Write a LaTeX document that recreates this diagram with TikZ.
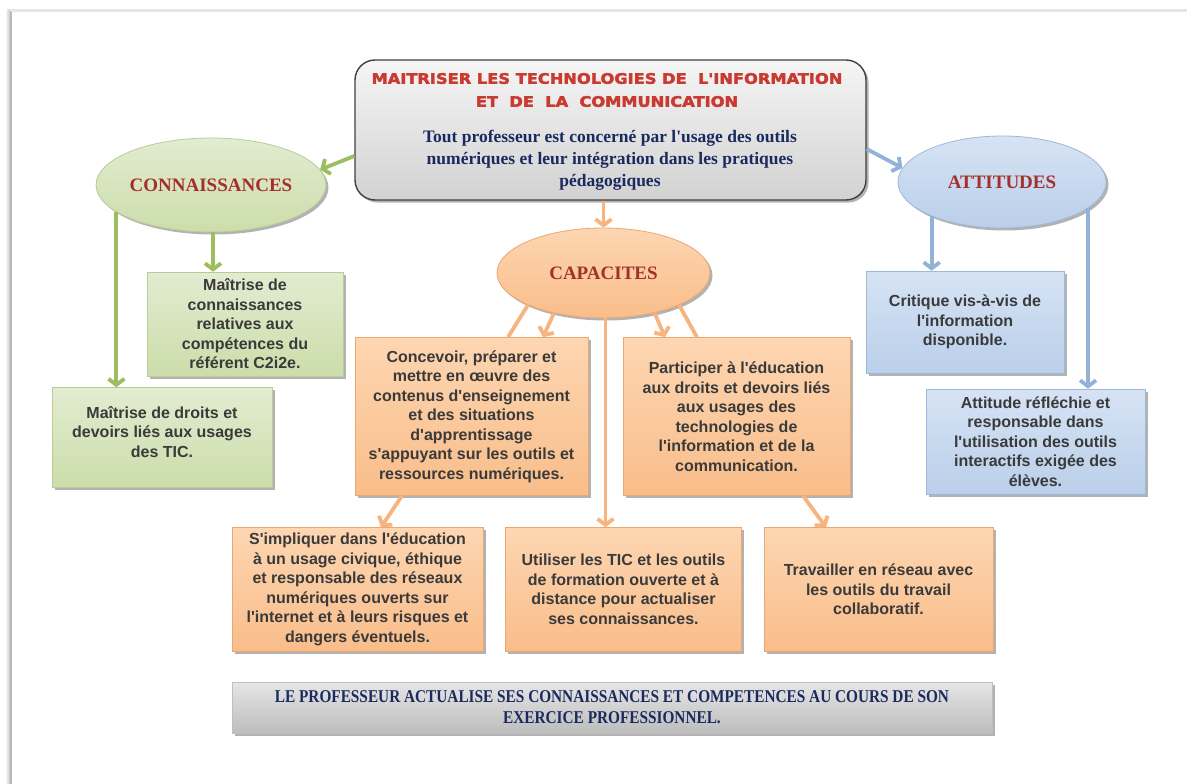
\documentclass[tikz,border=0pt]{standalone}
\usepackage{graphicx}
\usepackage{fontspec}
\setmainfont{Liberation Serif}[Ligatures=TeXOff]
\setsansfont{Liberation Sans}[Ligatures=TeXOff]
\newfontfamily\headfont{DejaVu Sans Bold}[FakeBold=2.5]
\usetikzlibrary{shapes.geometric,arrows.meta,shadows}

\definecolor{bodytext}{HTML}{3A3A3A}
\definecolor{navy}{HTML}{1B2A5E}
\definecolor{headred}{HTML}{C93A30}
\definecolor{ovalred}{HTML}{A3302C}
\definecolor{gtop}{HTML}{E2ECD1}
\definecolor{gbot}{HTML}{CCDDAA}
\definecolor{gedge}{HTML}{B9CC93}
\definecolor{garr}{HTML}{9DBE5E}
\definecolor{btop}{HTML}{D6E3F4}
\definecolor{bbot}{HTML}{BACFEA}
\definecolor{bedge}{HTML}{9FB8D8}
\definecolor{barr}{HTML}{93B2D7}
\definecolor{otop}{HTML}{FDD6B2}
\definecolor{obot}{HTML}{F9BD8A}
\definecolor{oedge}{HTML}{E9A772}
\definecolor{oarr}{HTML}{F7B47E}
\definecolor{graytop}{HTML}{F5F5F5}
\definecolor{graybot}{HTML}{D2D2D2}

\newcommand\widecaps[1]{\scalebox{1.12}[1]{#1}}
\newcommand\narrowcaps[1]{\scalebox{0.85}[1]{#1}}

\begin{document}
\begin{tikzpicture}[x=1pt,y=-1pt,
  softshadow/.style={drop shadow={shadow xshift=2.5pt,shadow yshift=-2.5pt,opacity=0.3,fill=black}},
  boxfont/.style={font=\sffamily\bfseries\fontsize{16}{19.5}\selectfont, text=bodytext, align=center},
  panel/.style={rectangle, line width=0.6pt, inner sep=0pt, softshadow, boxfont},
  gpanel/.style={panel, draw=gedge, top color=gtop, bottom color=gbot},
  bpanel/.style={panel, draw=bedge, top color=btop, bottom color=bbot},
  opanel/.style={panel, draw=oedge, top color=otop, bottom color=obot},
  oval/.style={ellipse, inner sep=0pt, line width=0.8pt, softshadow,
    font=\rmfamily\bfseries\fontsize{19}{22}\selectfont, text=ovalred},
  goval/.style={oval, draw=gedge, top color=gtop, bottom color=gbot},
  boval/.style={oval, draw=bedge, top color=btop, bottom color=bbot},
  ooval/.style={oval, draw=oedge, top color=otop, bottom color=obot},
  topbox/.style={rectangle, rounded corners=20pt, draw=black!75, line width=1.4pt,
    top color=graytop, bottom color=graybot, softshadow},
  band/.style={rectangle, draw=black!25, line width=0.6pt, top color=black!10,
    bottom color=black!26, softshadow, inner sep=0pt,
    font=\rmfamily\bfseries\fontsize{18}{21}\selectfont, text=navy, align=center},
  link/.style={line width=3.8pt, -{Straight Barb[length=6pt,width=16pt]}},
  glink/.style={link, draw=garr},
  blink/.style={link, draw=barr},
  olink/.style={link, draw=oarr},
  oline/.style={line width=3.8pt, draw=oarr},
]
\useasboundingbox (0,0) rectangle (1187,784);
\fill[white] (0,0) rectangle (1187,784);

% page edge with its soft shadow
\fill[left color=white, right color=black!22] (5,10) rectangle (10,784);
\draw[black!28, line width=2pt] (11,784) -- (11,11);
\draw[black!10, line width=2.5pt] (11,10.5) -- (1187,10.5);

% heading box
\node[topbox, minimum width=511pt, minimum height=140pt] (top) at (610.5,130) {};
\node[font=\headfont\fontsize{14.5}{23}\selectfont, text=headred, align=center]
  (headline) at (607,90)
  {\widecaps{MAITRISER LES TECHNOLOGIES DE\ \ L'INFORMATION}\\
   \widecaps{ET\ \ DE\ \ LA\ \ COMMUNICATION}};
\node[font=\rmfamily\bfseries\fontsize{17.5}{22}\selectfont, text=navy, align=center]
  (motto) at (610,160)
  {Tout professeur est concerné par l'usage des outils\\
   numériques et leur intégration dans les pratiques\\
   pédagogiques};

% the three families
\node[goval, minimum width=228pt, minimum height=94pt] (conn) at (211,185) {CONNAISSANCES};
\node[boval, minimum width=208pt, minimum height=92pt] (att) at (1002,182) {ATTITUDES};
\node[ooval, minimum width=213pt, minimum height=90pt] (cap) at (603.5,273) {CAPACITES};

% knowledge
\node[gpanel, minimum width=196pt, minimum height=104pt] (g1) at (245,324)
  {Maîtrise de\\ connaissances\\ relatives aux\\ compétences du\\ référent C2i2e.};
\node[gpanel, minimum width=220pt, minimum height=100pt] (g2) at (162,437.5) {};
\node[boxfont] (g2text) at (162,432)
  {Maîtrise de droits et\\ devoirs liés aux usages\\ des TIC.};

% attitudes
\node[bpanel, minimum width=198pt, minimum height=102pt] (b1) at (965,322)
  {Critique vis-à-vis de\\ l'information\\ disponible.};
\node[bpanel, minimum width=219pt, minimum height=105pt] (b2) at (1035.5,441.5)
  {Attitude réfléchie et\\ responsable dans\\ l'utilisation des outils\\ interactifs exigée des\\ élèves.};

% abilities
\node[opanel, minimum width=233pt, minimum height=158pt] (oA) at (471.5,416.5)
  {Concevoir, préparer et\\ mettre en œuvre des\\ contenus d'enseignement\\ et des situations\\ d'apprentissage\\ s'appuyant sur les outils et\\ ressources numériques.};
\node[opanel, minimum width=227pt, minimum height=158pt] (oB) at (736.5,416.5)
  {Participer à l'éducation\\ aux droits et devoirs liés\\ aux usages des\\ technologies de\\ l'information et de la\\ communication.};
\node[opanel, minimum width=251pt, minimum height=124pt] (o1) at (357.5,589.5)
  {S'impliquer dans l'éducation\\ à un usage civique, éthique\\ et responsable des réseaux\\ numériques ouverts sur\\ l'internet et à leurs risques et\\ dangers éventuels.};
\node[opanel, minimum width=236pt, minimum height=124pt] (o2) at (623.5,589.5)
  {Utiliser les TIC et les outils\\ de formation ouverte et à\\ distance pour actualiser\\ ses connaissances.};
\node[opanel, minimum width=229pt, minimum height=124pt] (o3) at (878.5,589.5)
  {Travailler en réseau avec\\ les outils du travail\\ collaboratif.};

% closing statement
\node[band, minimum width=760pt, minimum height=51pt] (band) at (612,707.5)
  {\narrowcaps{LE PROFESSEUR ACTUALISE SES CONNAISSANCES ET COMPETENCES AU COURS DE SON}\\
   \narrowcaps{EXERCICE PROFESSIONNEL.}};

% connectors
\draw[glink] ([yshift=-26pt]top.west) -- (conn.8);
\draw[blink] ([yshift=-19pt]top.east) -- (att.172);
\draw[olink] (cap.north |- top.south) -- (cap.north);

\draw[glink] ([xshift=2pt]conn.south) -- ([xshift=2pt]conn.south |- g1.north);
\draw[glink] (conn.196) -- (conn.196 |- g2.north);
\draw[blink] (att.206) -- (att.206 |- b1.north);
\draw[blink] (att.343) -- (att.343 |- b2.north);

\draw[oline] (cap.203) -- ([xshift=36.5pt]oA.north);
\draw[olink] (cap.219) -- ([xshift=71.5pt]oA.north);
\draw[olink] (cap.322) -- ([xshift=-71.5pt]oB.north);
\draw[oline] (cap.337) -- ([xshift=-39.5pt]oB.north);
\draw[olink] ([xshift=2pt]cap.south) -- ([xshift=2pt]cap.south |- o2.north);
\draw[olink] ([xshift=-69.5pt]oA.south) -- ([xshift=23.5pt]o1.north);
\draw[olink] ([xshift=66.5pt]oB.south) -- ([xshift=-52.5pt]o3.north);
\end{tikzpicture}
\end{document}
